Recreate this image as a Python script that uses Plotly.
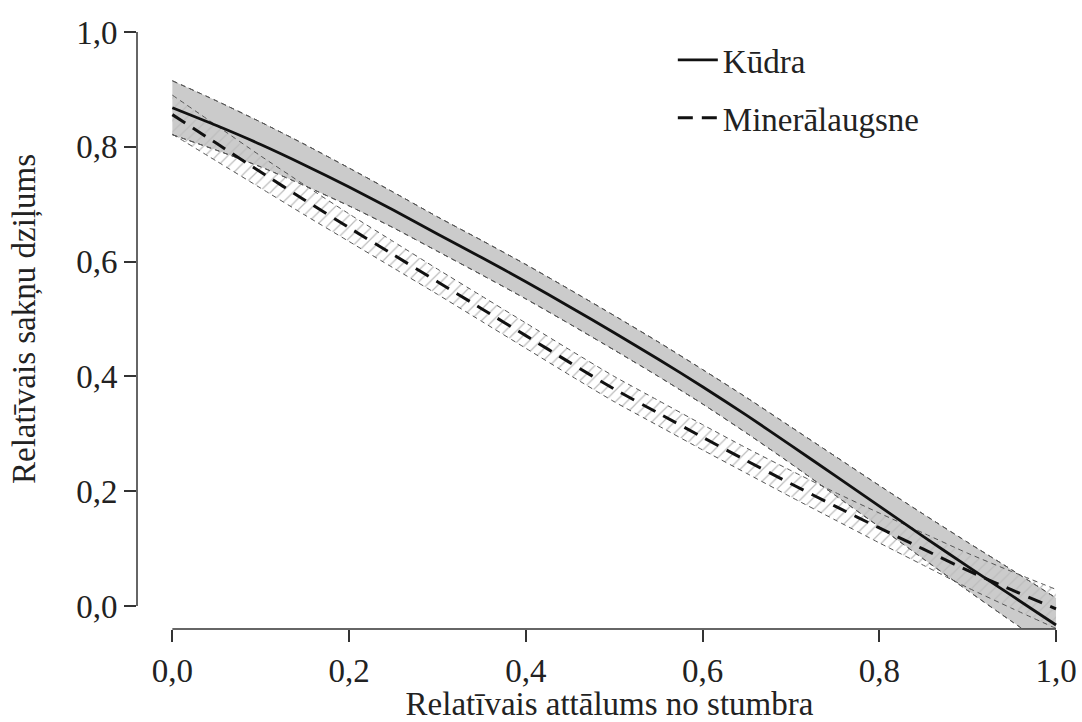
import plotly.graph_objects as go

# ---- data ----
x_vals = [0.0, 0.05, 0.1, 0.15, 0.2, 0.25, 0.3, 0.35, 0.4, 0.45, 0.5,
          0.55, 0.6, 0.65, 0.7, 0.75, 0.8, 0.85, 0.9, 0.95, 1.0]

kudra_mean = [0.868, 0.837, 0.804, 0.768, 0.730, 0.690, 0.648, 0.607, 0.565, 0.521, 0.476,
              0.430, 0.382, 0.332, 0.280, 0.227, 0.174, 0.121, 0.069, 0.018, -0.033]
kudra_upper = [0.915, 0.880, 0.843, 0.804, 0.763, 0.721, 0.678, 0.637, 0.595, 0.551, 0.506,
               0.460, 0.412, 0.363, 0.312, 0.261, 0.210, 0.160, 0.111, 0.063, 0.014]
kudra_lower = [0.821, 0.794, 0.765, 0.732, 0.697, 0.659, 0.618, 0.577, 0.535, 0.491, 0.446,
               0.400, 0.352, 0.301, 0.248, 0.193, 0.138, 0.082, 0.027, -0.027, -0.080]

mineral_mean = [0.856, 0.806, 0.756, 0.707, 0.659, 0.612, 0.565, 0.518, 0.471, 0.424, 0.378,
                0.336, 0.294, 0.253, 0.213, 0.174, 0.136, 0.099, 0.062, 0.028, -0.005]
mineral_upper = [0.890, 0.837, 0.784, 0.733, 0.683, 0.635, 0.587, 0.540, 0.493, 0.446, 0.400,
                 0.358, 0.316, 0.275, 0.236, 0.198, 0.162, 0.127, 0.092, 0.060, 0.029]
mineral_lower = [0.822, 0.775, 0.728, 0.681, 0.635, 0.589, 0.543, 0.496, 0.449, 0.402, 0.356,
                 0.314, 0.272, 0.231, 0.190, 0.150, 0.110, 0.071, 0.032, -0.004, -0.039]

series_names = ["Kūdra", "Minerālaugsne"]

x_ticks = [0.0, 0.2, 0.4, 0.6, 0.8, 1.0]
x_tick_labels = ["0,0", "0,2", "0,4", "0,6", "0,8", "1,0"]
y_ticks = [0.0, 0.2, 0.4, 0.6, 0.8, 1.0]
y_tick_labels = ["0,0", "0,2", "0,4", "0,6", "0,8", "1,0"]

x_title = "Relatīvais attālums no stumbra"
y_title = "Relatīvais sakņu dziļums"

FONT = "Liberation Serif, Times New Roman, Times, serif"
TXT = dict(family=FONT, size=33, color="#222222")
BORDER = dict(color="#555555", width=1, dash="5px,4px", shape="spline", smoothing=0.6)

fig = go.Figure()

# Kūdra confidence band (solid grey)
fig.add_trace(go.Scatter(x=x_vals, y=kudra_lower, mode="lines", line=BORDER,
                         showlegend=False, hoverinfo="skip"))
fig.add_trace(go.Scatter(x=x_vals, y=kudra_upper, mode="lines", line=BORDER,
                         fill="tonexty", fillcolor="#cbcbcb",
                         showlegend=False, hoverinfo="skip"))

# Minerālaugsne confidence band (hatched)
fig.add_trace(go.Scatter(x=x_vals, y=mineral_lower, mode="lines", line=BORDER,
                         showlegend=False, hoverinfo="skip"))
fig.add_trace(go.Scatter(x=x_vals, y=mineral_upper, mode="lines", line=BORDER,
                         fill="tonexty", fillcolor="rgba(0,0,0,0)",
                         fillpattern=dict(shape="/", size=8, solidity=0.15,
                                          fgcolor="#bdbdbd", bgcolor="rgba(0,0,0,0)",
                                          fillmode="replace"),
                         showlegend=False, hoverinfo="skip"))
# redraw Kūdra borders on top
fig.add_trace(go.Scatter(x=x_vals, y=kudra_upper, mode="lines", line=BORDER,
                         showlegend=False, hoverinfo="skip"))
fig.add_trace(go.Scatter(x=x_vals, y=kudra_lower, mode="lines", line=BORDER,
                         showlegend=False, hoverinfo="skip"))

# mean lines
fig.add_trace(go.Scatter(x=x_vals, y=mineral_mean, mode="lines", name=series_names[1],
                         legendgroup="m", legendrank=2,
                         line=dict(color="#111111", width=3, dash="15px,9px",
                                   shape="spline", smoothing=0.6)))
fig.add_trace(go.Scatter(x=x_vals, y=kudra_mean, mode="lines", name=series_names[0],
                         legendgroup="k", legendrank=1,
                         line=dict(color="#111111", width=2.8, shape="spline", smoothing=0.6)))

axis_common = dict(showgrid=False, zeroline=False, showline=False,
                   ticks="outside", ticklen=12, tickwidth=1.5, tickcolor="#333333",
                   tickfont=TXT)

fig.update_layout(
    width=1082, height=722,
    margin=dict(l=137, r=0, t=9, b=91),
    paper_bgcolor="white", plot_bgcolor="white",
    font=TXT,
    xaxis=dict(range=[-0.04, 1.0294], tickvals=x_ticks, ticktext=x_tick_labels,
               title=dict(text=x_title, standoff=10, font=TXT), **axis_common),
    yaxis=dict(range=[-0.04, 1.04], tickvals=y_ticks, ticktext=y_tick_labels,
               title=dict(text=y_title, standoff=30, font=TXT), **axis_common),
    legend=dict(x=0.567, y=0.963, xanchor="left", yanchor="top",
                bgcolor="rgba(0,0,0,0)", font=TXT,
                tracegroupgap=12, itemwidth=40),
    shapes=[
        dict(type="line", xref="x", yref="paper", x0=0, x1=1, y0=0, y1=0,
             line=dict(color="#333333", width=1.5)),
        dict(type="line", xref="paper", yref="y", x0=0, x1=0, y0=0, y1=1,
             line=dict(color="#333333", width=1.5)),
    ],
)

fig.write_html("out.html")
